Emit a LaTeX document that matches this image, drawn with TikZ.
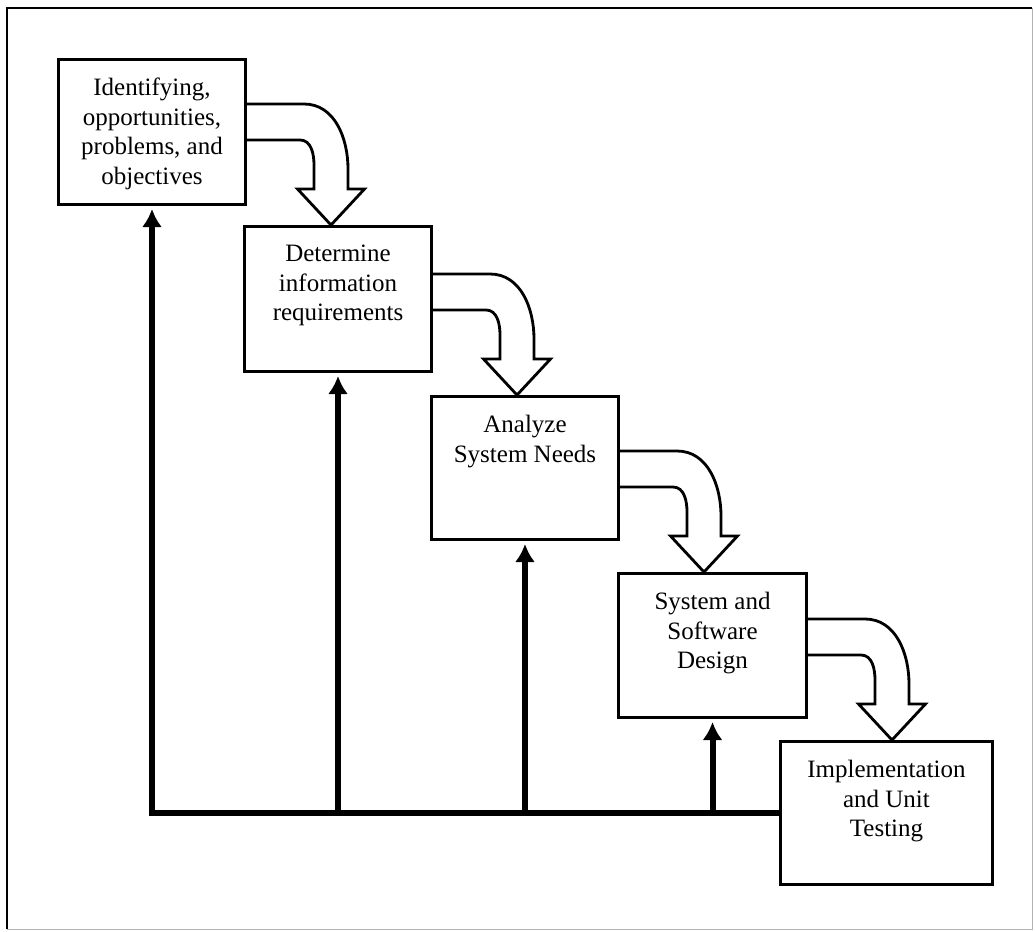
\documentclass[tikz,border=0pt]{standalone}
\usepackage{fontspec}
\setmainfont{Liberation Serif}
\usetikzlibrary{arrows.meta}

\begin{document}
\begin{tikzpicture}[x=1pt, y=1pt,
        stepbox/.style={draw, line width=3pt, inner sep=0pt, anchor=north west},
        steptext/.style={anchor=north, align=center, inner sep=0pt,
            font={\fontsize{25pt}{29.5pt}\selectfont}},
        bendarrow/.style={line width=2.8pt, line join=miter},
        feed/.style={line width=6pt, line join=miter, shorten >=3pt,
            -{Latex[length=18pt,width=20pt]}}]
                \useasboundingbox (0,0) rectangle (1035,-931);

                % frame
                \draw[line width=2.5pt] (1032,-8) -- (7,-8) -- (7,-929);
                \draw[gray!60, line width=1pt] (7,-929) -- (1032,-929) -- (1032,-8);

                % steps
                \node[stepbox, minimum width=187pt, minimum height=145pt] (b1) at (57,-58) {};
                \node[stepbox, minimum width=187pt, minimum height=145pt] (b2) at (243,-225) {};
                \node[stepbox, minimum width=187pt, minimum height=143pt] (b3) at (430,-395) {};
                \node[stepbox, minimum width=188pt, minimum height=144pt] (b4) at (617,-572) {};
                \node[stepbox, minimum width=212pt, minimum height=143pt] (b5) at (779,-740) {};

                \node[steptext] (t1) at ([yshift=-20pt]b1.north) {Identifying,\\opportunities,\\problems, and\\objectives};
                \node[steptext] (t2) at ([yshift=-20pt]b2.north) {Determine\\information\\requirements};
                \node[steptext] (t3) at ([yshift=-20pt]b3.north) {Analyze\\System Needs};
                \node[steptext] (t4) at ([yshift=-20pt]b4.north) {System and\\Software\\Design};
                \node[steptext] (t5) at ([yshift=-20pt]b5.north) {Implementation\\and Unit\\Testing};

                % bent arrows
                \begin{scope}[shift={(b1.east |- b2.north)}, xshift=84pt]
                    \draw[bendarrow] (b1.east |- 0,121) -- (-27,121) to[out=0,in=90] (17,56) -- (17,36) -- (33.5,36) -- (0,0)
                        -- (-33.5,36) -- (-17,36) -- (-17,60) to[out=90,in=0] (-31,85) -- (b1.east |- 0,85);
                \end{scope}
                \begin{scope}[shift={(b2.east |- b3.north)}, xshift=84pt]
                    \draw[bendarrow] (b2.east |- 0,121) -- (-27,121) to[out=0,in=90] (17,56) -- (17,36) -- (33.5,36) -- (0,0)
                        -- (-33.5,36) -- (-17,36) -- (-17,60) to[out=90,in=0] (-31,85) -- (b2.east |- 0,85);
                \end{scope}
                \begin{scope}[shift={(b3.east |- b4.north)}, xshift=84pt]
                    \draw[bendarrow] (b3.east |- 0,121) -- (-27,121) to[out=0,in=90] (17,56) -- (17,36) -- (33.5,36) -- (0,0)
                        -- (-33.5,36) -- (-17,36) -- (-17,60) to[out=90,in=0] (-31,85) -- (b3.east |- 0,85);
                \end{scope}
                \begin{scope}[shift={(b4.east |- b5.north)}, xshift=84pt]
                    \draw[bendarrow] (b4.east |- 0,121) -- (-27,121) to[out=0,in=90] (17,56) -- (17,36) -- (33.5,36) -- (0,0)
                        -- (-33.5,36) -- (-17,36) -- (-17,60) to[out=90,in=0] (-31,85) -- (b4.east |- 0,85);
                \end{scope}

                % feedback
                \draw[feed] (b5.west) -| (b1.south);
                \draw[feed] (b2.south |- b5.west) -- (b2.south);
                \draw[feed] (b3.south |- b5.west) -- (b3.south);
                \draw[feed] (b4.south |- b5.west) -- (b4.south);
\end{tikzpicture}
\end{document}
